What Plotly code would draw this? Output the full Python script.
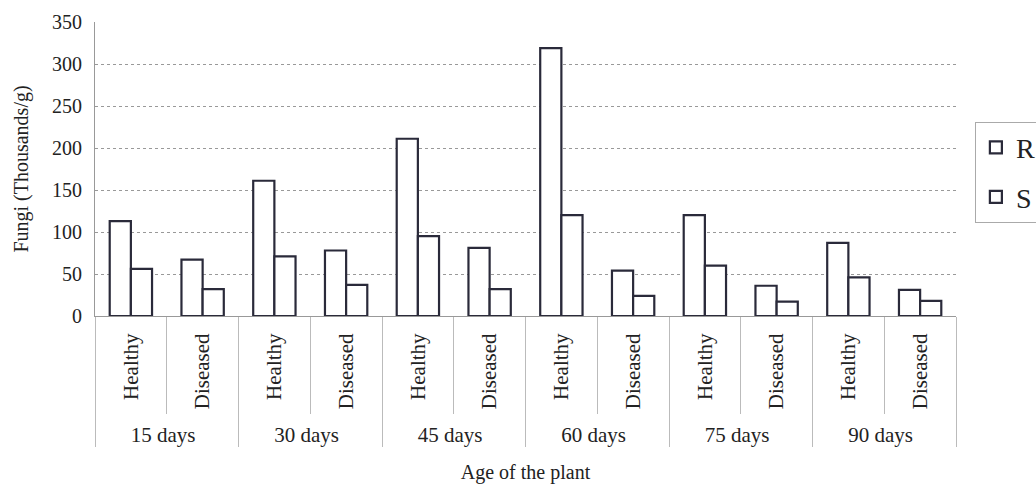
import plotly.graph_objects as go

ages = ["15 days", "30 days", "45 days", "60 days", "75 days", "90 days"]
conditions = ["Healthy", "Diseased"]
r_values = [113, 67, 161, 78, 211, 81, 319, 54, 120, 36, 87, 31]
s_values = [56, 32, 71, 37, 95, 32, 120, 24, 60, 17, 46, 18]
y_ticks = [0, 50, 100, 150, 200, 250, 300, 350]

outer = [a for a in ages for _ in conditions]
inner = [c for _ in ages for c in conditions]

serif = "Liberation Serif"
fig = go.Figure()
for name, vals in [("R", r_values), ("S", s_values)]:
    fig.add_trace(go.Bar(
        x=[outer, inner], y=vals, name=name, legendgroup=name,
        marker=dict(color="white", line=dict(color="#2a2a3a", width=2.2)),
    ))

fig.update_layout(
    width=1036, height=487,
    margin=dict(l=95, r=80, t=22, b=171),
    paper_bgcolor="white", plot_bgcolor="white",
    barmode="group", bargap=0.41, bargroupgap=0,
    font=dict(family=serif, size=20, color="#222"),
    legend=dict(xref="container", yref="container",
                x=0.941, y=0.75, xanchor="left", yanchor="top",
                font=dict(family=serif, size=28, color="#222"),
                bordercolor="#aaa", borderwidth=1, itemwidth=30,
                tracegroupgap=10),
    xaxis=dict(
        type="multicategory", tickangle=-90, automargin=False,
        tickfont=dict(family=serif, size=21, color="#222"),
        ticklabelstandoff=8,
        showline=True, linecolor="#999", linewidth=1,
        ticks="outside", ticklen=97, tickcolor="#bbb", tickwidth=1,
        showdividers=True, dividercolor="#bbb", dividerwidth=1,
        title=dict(text="Age of the plant", font=dict(family=serif, size=20), standoff=19),
        showgrid=False,
    ),
    yaxis=dict(
        range=[0, 350], tickvals=y_ticks, automargin=False,
        tickfont=dict(family=serif, size=20, color="#222"),
        ticks="outside", ticklen=8, tickcolor="rgba(0,0,0,0)",
        showgrid=True, gridcolor="#999", griddash="dot", gridwidth=1,
        showline=True, linecolor="#999", linewidth=1,
        zeroline=False,
        title=dict(text="Fungi (Thousands/g)", font=dict(family=serif, size=20), standoff=18),
    ),
)

fig.write_html("out.html", config={"displayModeBar": False},
               post_script="document.body.style.margin='0';")
